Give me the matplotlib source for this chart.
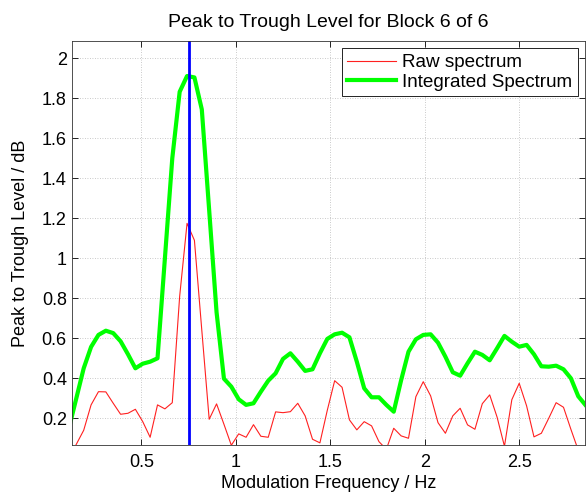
import numpy as np
import matplotlib
matplotlib.use("Agg")
import matplotlib.pyplot as plt

plt.rcParams["font.family"] = ["Liberation Sans", "DejaVu Sans"]

# FFT bins (df = 1/25.6 Hz), bins 3..73
freq = np.arange(3, 74) / 25.6

raw_spectrum = [
    0.00, 0.07, 0.14, 0.267, 0.333, 0.332, 0.275, 0.22, 0.225, 0.245,
    0.183, 0.105, 0.267, 0.247, 0.278, 0.81, 1.175, 1.09, 0.64, 0.195,
    0.272, 0.17, 0.065, 0.122, 0.105, 0.168, 0.11, 0.105, 0.232, 0.228,
    0.233, 0.275, 0.212, 0.095, 0.077, 0.24, 0.388, 0.355, 0.192, 0.142,
    0.183, 0.162, 0.083, 0.045, 0.15, 0.112, 0.10, 0.308, 0.383, 0.312,
    0.178, 0.125, 0.212, 0.25, 0.167, 0.145, 0.273, 0.317, 0.206, 0.06,
    0.293, 0.375, 0.262, 0.107, 0.125, 0.20, 0.278, 0.255, 0.145, 0.04,
    0.02,
]

integrated = [
    0.15, 0.30, 0.45, 0.557, 0.617, 0.638, 0.626, 0.585, 0.52, 0.45,
    0.473, 0.483, 0.50, 1.00, 1.50, 1.833, 1.912, 1.905, 1.745, 1.24,
    0.73, 0.398, 0.358, 0.295, 0.267, 0.275, 0.333, 0.388, 0.425, 0.497,
    0.525, 0.483, 0.437, 0.445, 0.525, 0.597, 0.62, 0.628, 0.605, 0.483,
    0.35, 0.305, 0.305, 0.267, 0.233, 0.39, 0.533, 0.595, 0.617, 0.62,
    0.578, 0.508, 0.43, 0.413, 0.475, 0.533, 0.517, 0.49, 0.55, 0.612,
    0.583, 0.558, 0.567, 0.52, 0.46, 0.458, 0.463, 0.445, 0.40, 0.31,
    0.265,
]

mod_freq = 0.75

xticks = [0.5, 1, 1.5, 2, 2.5]
xticklabels = ["0.5", "1", "1.5", "2", "2.5"]
yticks = [0.2, 0.4, 0.6, 0.8, 1.0, 1.2, 1.4, 1.6, 1.8, 2.0]
yticklabels = ["0.2", "0.4", "0.6", "0.8", "1", "1.2", "1.4", "1.6", "1.8", "2"]

fig = plt.figure(figsize=(5.88, 4.92), dpi=100)
ax = fig.add_axes([0.122, 0.095, 0.8735, 0.822])

ax.plot(freq, raw_spectrum, color="#ff2020", lw=0.8, label="Raw spectrum")
ax.plot(freq, integrated, color="#00ff00", lw=3.0, label="Integrated Spectrum")
ax.axvline(mod_freq, color="#0000ff", lw=2.0)

ax.set_xlim(0.132, 2.85)
ax.set_ylim(0.065, 2.088)
ax.set_xticks(xticks)
ax.set_xticklabels(xticklabels)
ax.set_yticks(yticks)
ax.set_yticklabels(yticklabels)
ax.tick_params(direction="in", top=True, right=True, labelsize=13, length=4, width=0.6)
ax.tick_params(axis="x", pad=6)
ax.grid(True, color="#b8b8b8", linestyle=(0, (1, 2)), lw=0.6)
for s in ax.spines.values():
    s.set_linewidth(0.6)
    s.set_color("#333333")

ax.set_title("Peak to Trough Level for Block 6 of 6", fontsize=14, pad=10)
ax.set_xlabel("Modulation Frequency / Hz", fontsize=13, labelpad=3)
ax.set_ylabel("Peak to Trough Level / dB", fontsize=13, labelpad=9)

leg = ax.legend(loc="upper right", fontsize=13.6, fancybox=False, framealpha=1,
                edgecolor="black", borderaxespad=0.4, handlelength=2.6,
                handletextpad=0.3, borderpad=0.3, labelspacing=0.12)
leg.get_frame().set_linewidth(0.6)

fig.savefig("out.png", dpi=100)
